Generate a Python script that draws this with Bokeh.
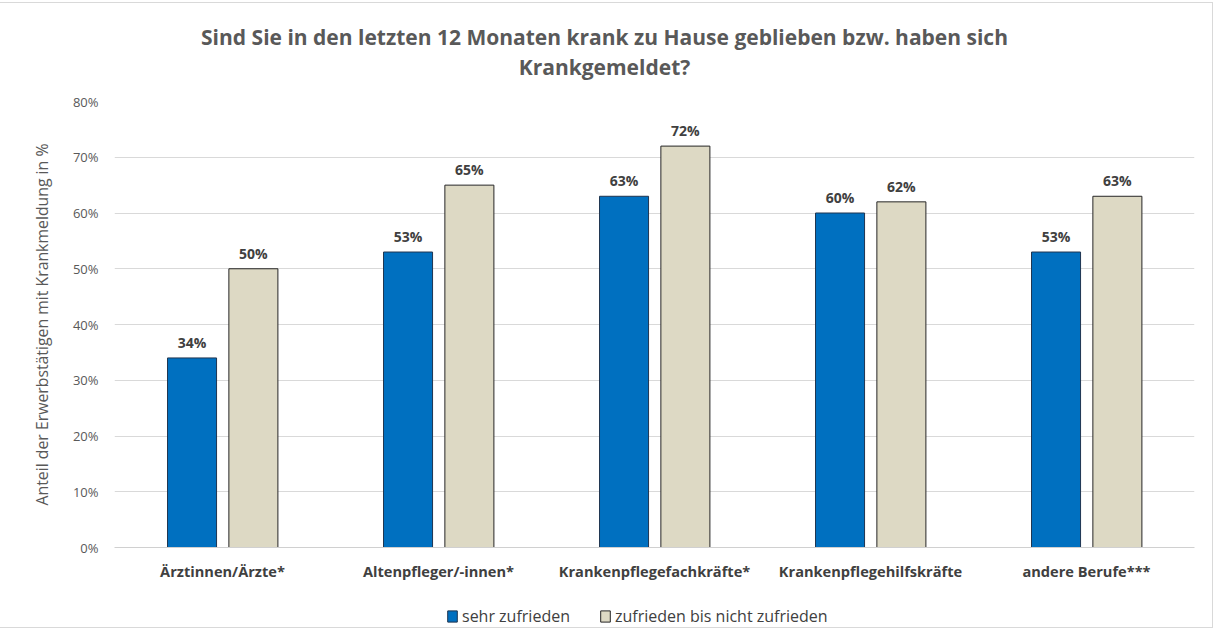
from bokeh.plotting import figure
from bokeh.layouts import column
from bokeh.models import (ColumnDataSource, Range1d, FixedTicker, PrintfTickFormatter, Label,
                          Legend, LegendItem, CDSView, IndexFilter)
from bokeh.transform import dodge
from bokeh.core.properties import value
from bokeh.embed import file_html
from bokeh.resources import INLINE

categories = ["Ärztinnen/Ärzte*", "Altenpfleger/-innen*", "Krankenpflegefachkräfte*",
              "Krankenpflegehilfskräfte", "andere Berufe***"]
sehr_zufrieden = [34, 53, 63, 60, 53]
zufrieden_bis_nicht = [50, 65, 72, 62, 63]
y_ticks = [0, 10, 20, 30, 40, 50, 60, 70, 80]
title_lines = ["Sind Sie in den letzten 12 Monaten krank zu Hause geblieben bzw. haben sich",
               "Krankgemeldet?"]
y_label = "Anteil der Erwerbstätigen mit Krankmeldung in %"
series_names = ["sehr zufrieden", "zufrieden bis nicht zufrieden"]

BLUE = "#0070C0"
TAN = "#DDD9C4"
BLUE_EDGE = "#1f3550"
TAN_EDGE = "#262626"
FONT = "Open Sans"
TXT = "#595959"
DARK = "#404040"
W = 1213

pos = list(range(1, len(categories) + 1))
src = ColumnDataSource(dict(
    x=pos,
    a=sehr_zufrieden,
    b=zufrieden_bis_nicht,
    la=[f"{v}%" for v in sehr_zufrieden],
    lb=[f"{v}%" for v in zufrieden_bis_nicht],
))

def strip(height, xr, yr):
    f = figure(width=W, height=height, output_backend="svg", toolbar_location=None,
               x_range=xr, y_range=yr, x_axis_location=None, y_axis_location=None,
               min_border=0, border_fill_color="white", background_fill_color="white")
    f.outline_line_color = None
    f.xgrid.visible = False
    f.ygrid.visible = False
    return f

# ---------- title strip (coordinates = page pixels) ----------
tf = strip(88, Range1d(122, 1202), Range1d(99, 11))
for line, yy in zip(title_lines, (44, 74)):
    tf.add_layout(Label(x=612, y=yy, text=line, text_align="center", text_baseline="middle",
                        text_font=FONT, text_font_style="bold", text_font_size="21px",
                        text_color=TXT))

# ---------- main chart ----------
p = figure(width=W, height=496, output_backend="svg", toolbar_location=None,
           x_range=Range1d(0.5, 5.5), y_range=Range1d(0, 80),
           min_border_left=115, min_border_right=18, min_border_top=10, min_border_bottom=40,
           background_fill_color="white", border_fill_color="white")
p.outline_line_color = None

p.vbar(x=dodge("x", -0.141, range=p.x_range), top="a", width=0.227, source=src,
       fill_color=BLUE, line_color=BLUE_EDGE, line_width=1)
p.vbar(x=dodge("x", 0.143, range=p.x_range), top="b", width=0.227, source=src,
       fill_color=TAN, line_color=TAN_EDGE, line_width=1)

for col, top, off in (("la", "a", -0.141), ("lb", "b", 0.143)):
    p.text(x=dodge("x", off, range=p.x_range), y=top, text=col, source=src,
           text_align="center", text_baseline="bottom", y_offset=-6,
           text_font=value(FONT), text_font_style="bold", text_font_size="14px", text_color=DARK)

p.xaxis.ticker = FixedTicker(ticks=pos)
p.xaxis.major_label_overrides = {i: c for i, c in zip(pos, categories)}
p.xaxis.major_label_text_font = FONT
p.xaxis.major_label_text_font_style = "bold"
p.xaxis.major_label_text_font_size = "14.6px"
p.xaxis.major_label_text_color = DARK
p.xaxis.major_label_standoff = 7
p.xaxis.axis_line_color = "#d0d0d0"
p.xaxis.major_tick_line_color = None
p.xaxis.minor_tick_line_color = None

p.yaxis.ticker = FixedTicker(ticks=y_ticks)
p.yaxis.formatter = PrintfTickFormatter(format="%d%%")
p.yaxis.major_label_text_font = FONT
p.yaxis.major_label_text_font_size = "13px"
p.yaxis.major_label_text_color = TXT
p.yaxis.major_label_standoff = 10
p.yaxis.axis_line_color = None
p.yaxis.major_tick_line_color = None
p.yaxis.minor_tick_line_color = None
p.yaxis.axis_label = y_label
p.yaxis.axis_label_text_font = FONT
p.yaxis.axis_label_text_font_style = "normal"
p.yaxis.axis_label_text_font_size = "15.8px"
p.yaxis.axis_label_text_color = TXT
p.yaxis.axis_label_standoff = 17

p.xgrid.grid_line_color = None
p.ygrid.grid_line_color = "#d9d9d9"
p.ygrid.grid_line_width = 1

# ---------- legend strip ----------
# swatch renderers keep one row of the data but lie far outside the strip's visible ranges
lf = strip(40, Range1d(1000, 1001), Range1d(1000, 1001))
first = CDSView(filter=IndexFilter([0]))
sw_a = lf.vbar(x="x", top="a", width=0.1, source=src, view=first,
               fill_color=BLUE, line_color=BLUE_EDGE)
sw_b = lf.vbar(x="x", top="b", width=0.1, source=src, view=first,
               fill_color=TAN, line_color=TAN_EDGE)
legend = Legend(items=[LegendItem(label=series_names[0], renderers=[sw_a]),
                       LegendItem(label=series_names[1], renderers=[sw_b])],
                orientation="horizontal", location=(332, 0),
                glyph_width=12, glyph_height=14, label_standoff=4, spacing=29,
                padding=0, margin=0, border_line_color=None, background_fill_alpha=0,
                label_text_font=FONT, label_text_font_size="16px", label_text_color=DARK,
                label_height=14)
lf.add_layout(legend, "center")

layout = column(tf, p, lf, spacing=0)
layout.styles = {"border": "1px solid #d9d9d9", "position": "relative", "left": "-2px",
                 "top": "2px", "margin-bottom": "-12px"}

open("out.html", "w").write(file_html(layout, INLINE))
